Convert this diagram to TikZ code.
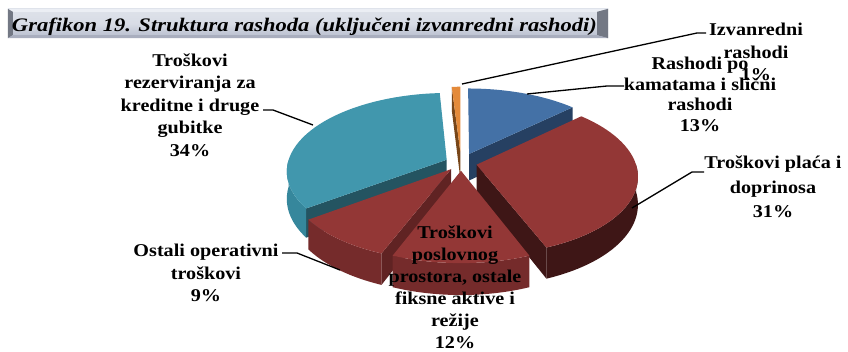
\documentclass[tikz,border=0pt]{standalone}
\usepackage{fontspec}
\setmainfont{Liberation Serif}
\newfontfamily\lblfont[FakeStretch=1.12]{Liberation Serif}
\usetikzlibrary{calc}
\definecolor{cyT}{RGB}{65,151,173}
\definecolor{cyS}{RGB}{54,135,156}
\definecolor{cyD}{RGB}{36,84,97}
\definecolor{blT}{RGB}{68,113,166}
\definecolor{blD}{RGB}{38,64,98}
\definecolor{orT}{RGB}{228,138,58}
\definecolor{orD}{RGB}{120,70,25}
\definecolor{rdT}{RGB}{147,55,54}
\definecolor{rdS}{RGB}{117,43,43}
\definecolor{rdM}{RGB}{96,35,35}
\definecolor{rdD}{RGB}{62,22,22}
\definecolor{tbTop}{RGB}{222,226,234}
\definecolor{tbBot}{RGB}{182,188,204}
\definecolor{tbDark}{RGB}{115,120,132}
\definecolor{tbLight}{RGB}{235,238,244}
% pie geometry (pixels)
\def\CX{461}\def\CY{163}\def\RX{159}\def\RY{77}\def\TK{27}\def\KP{0.14}
\def\pX#1#2#3{\CX+\RX*(cos(#1)+#3*cos(#2))/(1+\KP*(sin(#1)+#3*sin(#2)))}
\def\pY#1#2#3#4{\CY+(-\RY*(sin(#1)+#3*sin(#2))+\TK*#4)/(1+\KP*(sin(#1)+#3*sin(#2)))}
\def\cX#1#2{\CX+\RX*(#2*cos(#1))/(1+\KP*#2*sin(#1))}
\def\cY#1#2#3{\CY+(-\RY*#2*sin(#1)+\TK*#3)/(1+\KP*#2*sin(#1))}
% top face: from #1 to #2, bisector #3, explode #4, style #5
\def\topf#1#2#3#4#5{\fill[#5] ({\cX{#3}{#4}},{\cY{#3}{#4}{0}}) -- plot[domain=#1:#2,samples=40,variable=\t] ({\pX{\t}{#3}{#4}},{\pY{\t}{#3}{#4}{0}}) -- cycle;}
% outer side
\def\sidef#1#2#3#4#5{\fill[#5] plot[domain=#1:#2,samples=30,variable=\t] ({\pX{\t}{#3}{#4}},{\pY{\t}{#3}{#4}{0}}) -- plot[domain=#1:#2,samples=30,variable=\t] ({\pX{#1+#2-\t}{#3}{#4}},{\pY{#1+#2-\t}{#3}{#4}{1}}) -- cycle;}
% radial face at angle #1
\def\radf#1#2#3#4{\fill[#4] ({\cX{#2}{#3}},{\cY{#2}{#3}{0}}) -- ({\pX{#1}{#2}{#3}},{\pY{#1}{#2}{#3}{0}}) -- ({\pX{#1}{#2}{#3}},{\pY{#1}{#2}{#3}{1}}) -- ({\cX{#2}{#3}},{\cY{#2}{#3}{1}}) -- cycle;}
\begin{document}
\begin{tikzpicture}[x=1pt,y=-1pt,
  lbl/.style={font=\lblfont\bfseries\fontsize{18}{22.5}\selectfont, align=center, inner sep=0pt},
  leader/.style={draw=black, line width=1.3pt},
  titlebox/.style={minimum width=600pt, minimum height=29pt, inner sep=0pt, top color=tbTop, bottom color=tbBot, middle color=tbTop!85!tbBot}]
\useasboundingbox[fill=white] (0,0) rectangle (848,352);
% ---------- title ----------
\node[titlebox] (tbox) at (308,23.5) {};
\fill[tbLight] (tbox.north west) -- (tbox.north east) -- ($(tbox.north east)+(-11,3)$) -- ($(tbox.north west)+(5,3)$) -- cycle;
\fill[tbDark] (tbox.north west) -- ($(tbox.north west)+(5,3)$) -- ($(tbox.south west)+(5,-3)$) -- (tbox.south west) -- cycle;
\fill[tbDark] (tbox.north east) -- ($(tbox.north east)+(-11,3)$) -- ($(tbox.south east)+(-11,-3)$) -- (tbox.south east) -- cycle;
\fill[tbBot!80!tbDark] (tbox.south west) -- ($(tbox.south west)+(5,-3)$) -- ($(tbox.south east)+(-11,-3)$) -- (tbox.south east) -- cycle;
\node[inner sep=0pt, anchor=base] (title) at (304.5,32) {\resizebox{585pt}{13.5pt}{\bfseries\itshape Grafikon 19. Struktura rashoda (uključeni izvanredni rashodi)}};
% ---------- pie ----------
% cyan slice 93.6..216
\radf{216}{154.8}{0.1}{cyD}
\sidef{180}{216}{154.8}{0.1}{cyS}
\topf{93.6}{216}{154.8}{0.1}{cyT}
% orange slice 90..93.6
\radf{93.6}{91.8}{0.15}{orD}
\topf{90}{93.6}{91.8}{0.15}{orT}
% blue slice 43.2..90
\radf{43.2}{66.6}{0.13}{blD}
\topf{43.2}{90}{66.6}{0.13}{blT}
% red slice 216..248.4
\sidef{216}{248.4}{232.2}{0.1}{rdS}
\radf{248.4}{232.2}{0.1}{rdM}
\topf{216}{248.4}{232.2}{0.1}{rdT}
% red slice -68.4..43.2
\radf{-68.4}{-12.6}{0.1}{rdD}
\sidef{-68.4}{0}{-12.6}{0.1}{rdD}
\topf{-68.4}{43.2}{-12.6}{0.1}{rdT}
% red slice -111.6..-68.4
\sidef{-111.6}{-68.4}{-90}{0.1}{rdS}
\topf{-111.6}{-68.4}{-90}{0.1}{rdT}
% ---------- labels ----------
\node[lbl] (izv) at (756,52) {Izvanredni\\rashodi\\1\%};
\node[lbl, font=\lblfont\bfseries\fontsize{18}{20.5}\selectfont] (kam) at (700,94.5) {Rashodi po\\kamatama i slični\\rashodi\\13\%};
\node[lbl, font=\lblfont\bfseries\fontsize{18}{24.5}\selectfont] (pla) at (773,187) {Troškovi plaća i\\doprinosa\\31\%};
\node[lbl, font=\lblfont\bfseries\fontsize{18}{22}\selectfont] (pos) at (455,287) {Troškovi\\poslovnog\\prostora, ostale\\fiksne aktive i\\režije\\12\%};
\node[lbl] (ost) at (206,273) {Ostali operativni\\troškovi\\9\%};
\node[lbl] (rez) at (190,105) {Troškovi\\rezerviranja za\\kreditne i druge\\gubitke\\34\%};
% ---------- leaders ----------
\coordinate (izvA) at (462,84); \coordinate (izvB) at (697,33); \coordinate (izvC) at (706,33);
\coordinate (kamA) at (527,94); \coordinate (kamB) at (607,86); \coordinate (kamC) at (624,86);
\coordinate (plaA) at (632,208); \coordinate (plaB) at (692,172); \coordinate (plaC) at (704,172);
\coordinate (ostA) at (340,270); \coordinate (ostB) at (297,253); \coordinate (ostC) at (282,253);
\coordinate (rezA) at (313,125); \coordinate (rezB) at (273,110); \coordinate (rezC) at (263,110);
\draw[leader] (izvA) -- (izvB) -- (izvC);
\draw[leader] (kamA) -- (kamB) -- (kamC);
\draw[leader] (plaA) -- (plaB) -- (plaC);
\draw[leader] (ostA) -- (ostB) -- (ostC);
\draw[leader] (rezA) -- (rezB) -- (rezC);
\end{tikzpicture}
\end{document}
